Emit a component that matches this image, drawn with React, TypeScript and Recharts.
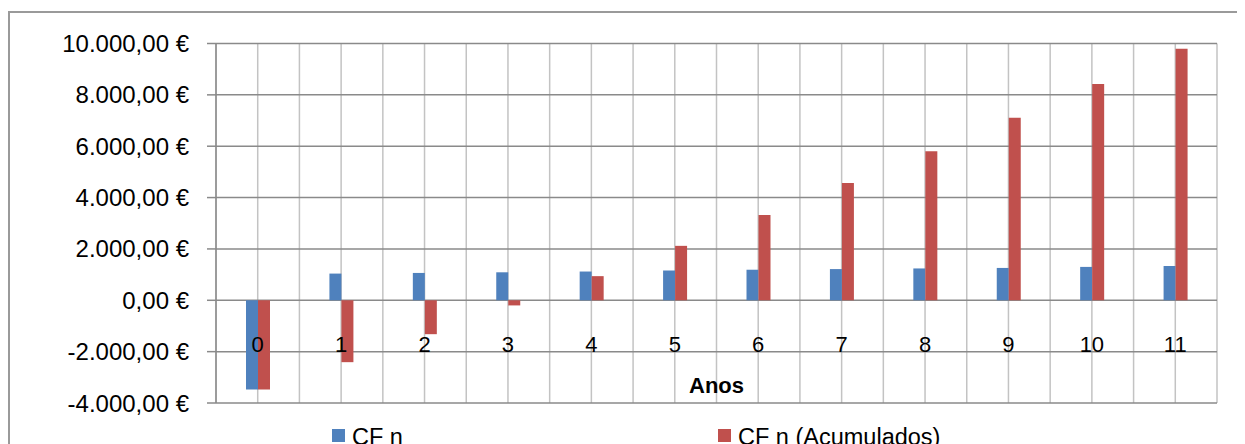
import { Bar, BarChart, CartesianGrid, Label, Legend, XAxis, YAxis } from "recharts";

const years = ["0", "1", "2", "3", "4", "5", "6", "7", "8", "9", "10", "11"];
const cfN = [-3470, 1040, 1065, 1090, 1120, 1160, 1190, 1215, 1240, 1260, 1300, 1335];
const cfAcumulados = [-3470, -2410, -1320, -200, 940, 2120, 3320, 4570, 5800, 7110, 8420, 9800];
const yTicks = [-4000, -2000, 0, 2000, 4000, 6000, 8000, 10000];

const BLUE = "#4f81bd";
const RED = "#c0504d";
const FONT = "'Liberation Sans', Arial, sans-serif";

const data = years.map((year, i) => ({ year, cf: cfN[i], acc: cfAcumulados[i] }));

// 10000 -> "10.000,00 €"
function euro(v: number) {
  const neg = v < 0;
  const int = Math.abs(Math.round(v))
    .toString()
    .replace(/\B(?=(\d{3})+(?!\d))/g, ".");
  return `${neg ? "-" : ""}${int},00 €`;
}

function YearTick(props: any) {
  const { x, y, payload } = props;
  return (
    <text x={x} y={y - 51} textAnchor="middle" fill="#000" fontSize={22} fontFamily={FONT}>
      {payload.value}
    </text>
  );
}

function LegendBox() {
  const items = [
    { name: "CF n", color: BLUE, left: 322 },
    { name: "CF n (Acumulados)", color: RED, left: 708 },
  ];
  return (
    <div style={{ position: "relative", height: 20, fontFamily: FONT, fontSize: 23.5 }}>
      {items.map((it) => (
        <div key={it.name} style={{ position: "absolute", left: it.left, top: 0, height: 20, display: "flex", alignItems: "center", whiteSpace: "nowrap" }}>
          <span style={{ display: "inline-block", width: 13, height: 13, background: it.color, marginRight: 7, marginTop: 3 }} />
          <span style={{ lineHeight: "20px", color: "#000", marginTop: 5 }}>{it.name}</span>
        </div>
      ))}
    </div>
  );
}

export default function App() {
  return (
    <div style={{ marginTop: 3, width: 1235, height: 431, borderTop: "2px solid #9a9a9a", borderLeft: "2px solid #9a9a9a", background: "#fff" }}>
      <style>{"html,body{overflow:hidden}"}</style>
      <BarChart
        width={1235}
        height={431}
        data={data}
        margin={{ top: 30.5, right: 28, left: 0, bottom: 0 }}
        barSize={12}
        barGap={0}
      >
        <CartesianGrid
          horizontal={false}
          stroke="#c3c3c3"
          strokeWidth={1.5}
          verticalCoordinatesGenerator={({ offset }: any) =>
            Array.from({ length: years.length * 2 + 1 }, (_, i) => offset.left + (offset.width * i) / (years.length * 2))
          }
        />
        <CartesianGrid vertical={false} stroke="#8a8a8a" strokeWidth={1.5} />
        <XAxis
          dataKey="year"
          height={21}
          axisLine={false}
          tickLine={false}
          tickSize={0}
          tickMargin={0}
          interval={0}
          tick={<YearTick />}
        >
          <Label value="Anos" position="top" offset={10} fill="#000" fontSize={22} fontWeight="bold" fontFamily={FONT} />
        </XAxis>
        <YAxis
          width={206}
          domain={[-4000, 10000]}
          ticks={yTicks}
          interval={0}
          tickFormatter={euro}
          axisLine={{ stroke: "#8a8a8a", strokeWidth: 1.5 }}
          tickLine={{ stroke: "#8a8a8a", strokeWidth: 1.5 }}
          tickSize={9}
          tickMargin={18}
          tick={{ fill: "#000", fontSize: 24, fontFamily: FONT }}
        />
        <Legend verticalAlign="bottom" height={20} wrapperStyle={{ left: 0, width: 1235 }} content={<LegendBox />} />
        <Bar dataKey="cf" name="CF n" fill={BLUE} isAnimationActive={false} />
        <Bar dataKey="acc" name="CF n (Acumulados)" fill={RED} isAnimationActive={false} />
      </BarChart>
    </div>
  );
}
